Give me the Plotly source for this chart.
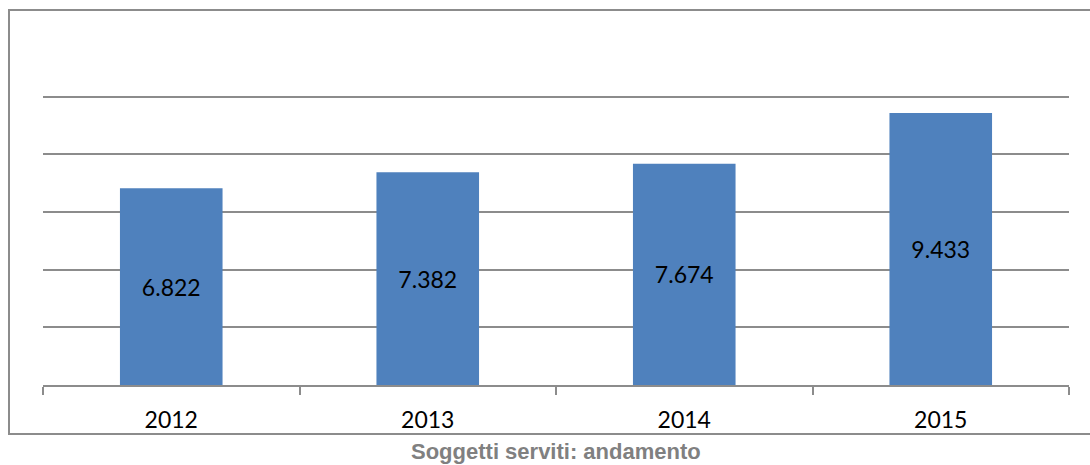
import plotly.graph_objects as go

years = ["2012", "2013", "2014", "2015"]
values = [6822, 7382, 7674, 9433]
grid_vals = [2000, 4000, 6000, 8000, 10000]
title_text = "Soggetti serviti: andamento"

labels = [f"{v:,}".replace(",", ".") for v in values]

W, H = 1090, 465
ml, mr, mt, mb = 43, 21, 39, 80
pw = W - ml - mr
ph = H - mt - mb

def px_x(x):
    return (x - ml) / pw

def px_y(y):
    return (H - mb - y) / ph

fig = go.Figure(go.Bar(
    x=years, y=values, text=labels,
    textposition="inside", insidetextanchor="middle",
    textangle=0,
    marker=dict(color="#4F81BD", line=dict(width=0)),
    textfont=dict(family="Lato", size=23, color="black"),
    width=0.4,
))

fig.update_layout(
    width=W, height=H,
    margin=dict(l=ml, r=mr, t=mt, b=mb),
    paper_bgcolor="white", plot_bgcolor="white",
    showlegend=False,
)
fig.update_xaxes(
    type="category", tickson="boundaries",
    showline=True, linecolor="#8C8C8C", linewidth=1.5,
    ticks="outside", ticklen=8, tickcolor="#8C8C8C", tickwidth=1.5,
    tickfont=dict(family="Lato", size=23, color="black"),
    ticklabelstandoff=14,
    showgrid=False, zeroline=False,
)
fig.update_yaxes(
    range=[0, 12000], tickvals=grid_vals, showticklabels=False,
    showgrid=True, gridcolor="#8C8C8C", gridwidth=1.5,
    zeroline=False, showline=False,
)

fig.add_shape(
    type="rect", xref="paper", yref="paper",
    x0=px_x(9), x1=px_x(1130), y0=px_y(434), y1=px_y(10),
    line=dict(color="#8C8C8C", width=2), fillcolor="rgba(0,0,0,0)",
    layer="above",
)
fig.add_annotation(
    xref="paper", yref="paper", x=0.5, y=px_y(451),
    text=f"<b>{title_text}</b>", showarrow=False,
    xanchor="center", yanchor="middle",
    font=dict(family="Liberation Sans", size=22, color="#808080"),
)

fig.write_html(
    "out.html",
    config={"displayModeBar": False},
    post_script="document.body.style.margin='0';document.body.style.overflow='hidden';",
)
